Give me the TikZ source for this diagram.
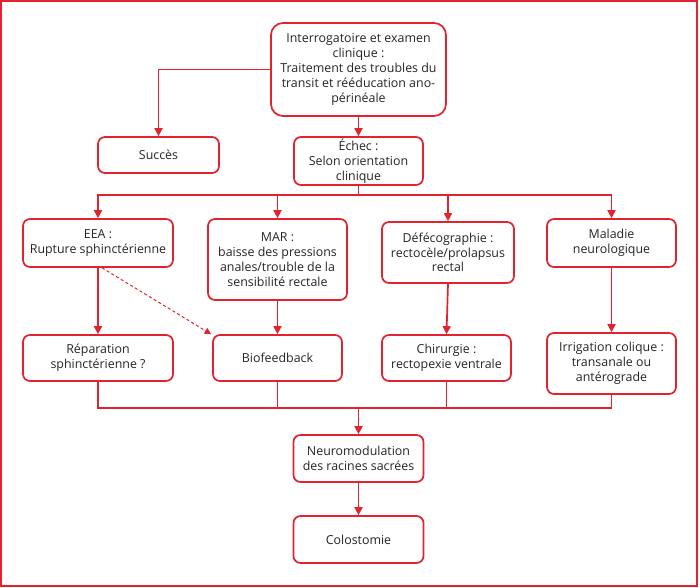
\documentclass[tikz,border=0pt]{standalone}
\usepackage{fontspec}
\setmainfont{Open Sans}
\usetikzlibrary{arrows.meta}
\definecolor{cred}{RGB}{226,35,45}
\definecolor{ctext}{RGB}{40,36,37}
\begin{document}
\begin{tikzpicture}[x=1pt,y=-1pt,
  box/.style={draw=cred,line width=1.7pt,rounded corners=7pt,align=center,
    inner sep=0pt,text=ctext,font=\fontsize{12.4}{14.8}\selectfont},
  ln/.style={draw=cred,line width=1.7pt},
  arr/.style={ln,-{Triangle[width=8pt,length=8pt]}},
  darr/.style={draw=cred,line width=1pt,dash pattern=on 3pt off 2.5pt,-{Triangle[width=6.5pt,length=6.5pt]}}]
\useasboundingbox (0,0) rectangle (700,587);
\draw[ln] (0.9,0.9) rectangle (697,586);
\node[box,rounded corners=12pt,minimum width=175pt,minimum height=93pt] (top) at (358.5,69.5)
  {Interrogatoire et examen\\clinique :\\Traitement des troubles du\\transit et rééducation ano-\\périnéale};
\node[box,minimum width=121pt,minimum height=36pt] (succ) at (158.5,155) {Succès};
\node[box,minimum width=129pt,minimum height=48pt] (echec) at (358.5,161) {Échec :\\Selon orientation\\clinique};
\node[box,minimum width=150pt,minimum height=48pt] (eea) at (98,243) {EEA :\\Rupture sphinctérienne};
\node[box,minimum width=139pt,minimum height=81pt] (mar) at (277.5,259.5) {MAR :\\baisse des pressions\\anales/trouble de la\\sensibilité rectale};
\node[box,minimum width=132pt,minimum height=61pt] (defe) at (448,252.5) {Défécographie :\\rectocèle/prolapsus\\rectal};
\node[box,minimum width=129pt,minimum height=48pt] (mal) at (611.5,243) {Maladie\\neurologique};
\node[box,minimum width=150pt,minimum height=46pt] (rep) at (98,358) {Réparation\\sphinctérienne ?};
\node[box,minimum width=129pt,minimum height=46pt] (bio) at (277.5,358) {Biofeedback};
\node[box,minimum width=129pt,minimum height=46pt] (chir) at (446.5,358) {Chirurgie :\\rectopexie ventrale};
\node[box,minimum width=129pt,minimum height=61pt] (irr) at (611.5,363.5) {Irrigation colique :\\transanale ou\\antérograde};
\node[box,minimum width=130pt,minimum height=47pt] (neuro) at (358.5,458.5) {Neuromodulation\\des racines sacrées};
\node[box,minimum width=130pt,minimum height=47pt] (colo) at (358.5,539.5) {Colostomie};
\coordinate (b1) at (358.5,195);
\coordinate (b2) at (358.5,408);
\draw[arr] (top.west) -| (succ.north);
\draw[arr] (top.south) -- (echec.north);
\draw[ln] (echec.south) -- (b1);
\draw[arr] (b1) -| (eea.north);
\draw[arr] (b1) -| (mar.north);
\draw[arr] (b1) -| (defe.north);
\draw[arr] (b1) -| (mal.north);
\draw[arr] (eea.south) -- (rep.north);
\draw[arr] (mar.south) -- (bio.north);
\draw[arr] (defe.south) -- (chir.north);
\draw[arr] (mal.south) -- (irr.north);
\draw[darr] ([xshift=4pt]eea.south) -- ([xshift=-1pt]bio.north west);
\draw[ln] (rep.south) |- (b2);
\draw[ln] (bio.south) |- (b2);
\draw[ln] (chir.south) |- (b2);
\draw[ln] (irr.south) |- (b2);
\draw[arr] (b2) -- (neuro.north);
\draw[arr] (neuro.south) -- (colo.north);
\end{tikzpicture}
\end{document}
